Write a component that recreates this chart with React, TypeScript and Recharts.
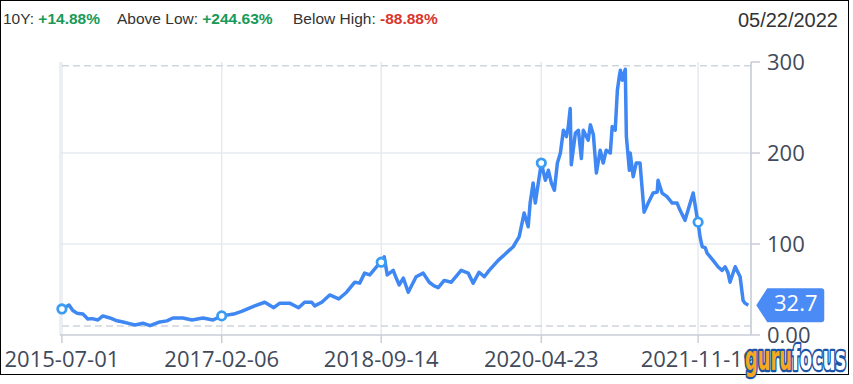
import React from "react";
import { LineChart, Line, XAxis, YAxis, CartesianGrid, ReferenceLine, ReferenceDot } from "recharts";

const dates = [
  "2015-07-01","2015-07-27","2015-08-10","2015-08-25","2015-09-16","2015-10-04","2015-10-20","2015-11-10","2015-11-28","2015-12-24",
  "2016-01-15","2016-02-10","2016-03-05","2016-03-25","2016-04-23","2016-05-19","2016-06-24","2016-07-20","2016-08-11","2016-09-17",
  "2016-10-20","2016-11-29","2017-01-05","2017-02-06","2017-03-22","2017-04-20","2017-06-07","2017-07-14","2017-08-16","2017-09-07",
  "2017-10-13","2017-11-15","2017-12-07","2018-01-02","2018-01-13","2018-02-08","2018-03-09","2018-04-11","2018-05-10","2018-06-09",
  "2018-06-27","2018-07-15","2018-08-03","2018-09-08","2018-09-14","2018-09-25","2018-10-06","2018-10-28","2018-11-08","2018-11-19",
  "2018-12-04","2018-12-22","2019-01-20","2019-02-15","2019-03-09","2019-03-27","2019-04-11","2019-05-03","2019-05-29","2019-07-04",
  "2019-07-30","2019-08-17","2019-09-08","2019-09-27","2019-10-15","2019-11-17","2019-12-09","2019-12-27","2020-01-11","2020-02-02",
  "2020-02-20","2020-03-06","2020-03-13","2020-03-24","2020-04-01","2020-04-12","2020-04-23","2020-05-08","2020-05-19","2020-05-30",
  "2020-06-10","2020-06-21","2020-07-02","2020-07-13","2020-07-24","2020-07-31","2020-08-07","2020-08-11","2020-08-26","2020-09-06",
  "2020-09-17","2020-09-24","2020-10-12","2020-10-20","2020-10-31","2020-11-11","2020-11-25","2020-12-06","2020-12-17","2021-01-01",
  "2021-01-08","2021-01-19","2021-01-27","2021-02-03","2021-02-07","2021-02-14","2021-02-25","2021-03-01","2021-03-12","2021-03-15",
  "2021-03-26","2021-04-06","2021-04-20","2021-05-05","2021-05-20","2021-06-07","2021-06-22","2021-06-25","2021-07-10","2021-07-28",
  "2021-08-16","2021-09-03","2021-09-14","2021-10-02","2021-10-13","2021-11-01","2021-11-15","2021-11-19","2021-11-26","2021-12-04",
  "2021-12-15","2021-12-22","2022-01-13","2022-01-31","2022-02-15","2022-02-26","2022-03-09","2022-03-16","2022-04-04","2022-04-22",
  "2022-05-03","2022-05-10","2022-05-22"
];

const prices = [
  28.6, 33, 27, 24, 23, 17.6, 18, 16.5, 21, 18.7,
  16, 14.3, 12.5, 11, 13, 10.2, 14.3, 15.5, 18.7, 18.7,
  16.5, 18.7, 16.5, 21, 23, 26, 32, 36, 30, 35,
  35, 30, 36, 36, 32, 36, 44, 39.6, 47, 58,
  57, 68, 66, 79, 80, 86, 66, 71, 62.6, 55,
  62.6, 47, 64, 68, 58, 54, 52, 60, 58, 71,
  68, 57, 69, 64, 71, 82, 88, 93, 97, 108,
  134, 119, 145, 167, 145, 167, 189, 170, 181, 167,
  159, 189, 200, 225, 218, 229, 249, 187, 222, 225,
  194, 225, 214, 231, 220, 178, 203, 189, 203, 200,
  229, 225, 269, 284, 291, 280, 292, 218, 181, 200,
  174, 189, 189, 135, 145, 156, 157, 170, 156, 152,
  145, 145, 137, 126, 137, 156, 130, 124, 108, 97,
  96, 90, 82, 75, 71, 75, 68, 58, 75, 64,
  38, 35, 32.7
];

const tickDates = ["2015-07-01", "2017-02-06", "2018-09-14", "2020-04-23", "2021-11-19"];
const yTicks = [0, 100, 200, 300];
const headerLabels = ["10Y:", "Above Low:", "Below High:"];
const headerValues = ["+14.88%", "+244.63%", "-88.88%"];
const headerColors = ["#189a58", "#189a58", "#d9362d"];
const headerLefts = [3, 117, 293];
const lastDate = "05/22/2022";
const lastPrice = 32.7;
const lowRef = 9.9;
const highRef = 296;
const domainStart = "2015-06-24";
const domainEnd = "2022-06-01";

const toT = (s: string) => new Date(s + "T00:00:00Z").getTime();
const data = dates.map((d, i) => ({ t: toT(d), d, price: prices[i] }));
const tickTs = tickDates.map(toT);
const markerSet = new Set(tickDates);

const fmtDate = (t: number) => new Date(t).toISOString().slice(0, 10);

const axisColor = "#c9ced6";
const tickColor = "#414a5b";
const lineColor = "#3f87f3";
const tickFont = "'Open Sans', 'Noto Sans', sans-serif";

const renderDot = (p: any) => {
  if (p.payload && markerSet.has(p.payload.d)) {
    return <circle key={p.key} cx={p.cx} cy={p.cy} r={4.2} fill="#fff" stroke="#3a9cf2" strokeWidth={2.8} />;
  }
  return <g key={p.key} />;
};

const PriceTag = (p: any) => {
  const cx = p.cx, cy = p.cy;
  const x0 = cx + 8;
  const bx = cx + 19;
  const br = cx + 76;
  const h = 17;
  const d = `M${x0},${cy} L${bx},${cy - h} L${br - 3},${cy - h} Q${br},${cy - h} ${br},${cy - h + 3} L${br},${cy + h - 3} Q${br},${cy + h} ${br - 3},${cy + h} L${bx},${cy + h} Z`;
  return (
    <g>
      <path d={d} fill="#4b8bf5" />
      <text x={(bx + br) / 2} y={cy + 6} textAnchor="middle" fill="#fff" fontSize={22} fontFamily={tickFont}>
        {lastPrice}
      </text>
    </g>
  );
};

export default function App() {
  return (
    <div style={{ position: "absolute", left: 0, top: 0, width: 853, height: 384, background: "#fff", overflow: "hidden" }}>
      <div style={{ position: "absolute", left: 0, top: 0, width: 849, height: 375, border: "1px solid #000", boxSizing: "border-box" }} />
      {headerLabels.map((l, i) => (
        <div key={l} style={{ position: "absolute", left: headerLefts[i], top: 10, fontFamily: "'Liberation Sans', Arial, sans-serif", fontSize: 15.5, lineHeight: "18px", color: "#333", whiteSpace: "nowrap" }}>
          {l} <b style={{ color: headerColors[i] }}>{headerValues[i]}</b>
        </div>
      ))}
      <div style={{ position: "absolute", right: 15, top: 9, fontFamily: "'Liberation Sans', Arial, sans-serif", fontSize: 20, lineHeight: "23px", color: "#333" }}>
        {lastDate}
      </div>
      <div style={{ position: "absolute", left: 0, top: 0 }}>
        <LineChart width={853} height={384} data={data} margin={{ top: 62, right: 22, bottom: 19, left: 60 }}>
          <CartesianGrid horizontal={false} vertical={true} stroke="#e6eaf0" strokeWidth={1.5} />
          <ReferenceLine y={100} stroke="#e6eaf0" strokeWidth={1.5} />
          <ReferenceLine y={200} stroke="#e6eaf0" strokeWidth={1.5} />
          <ReferenceLine y={highRef} stroke="#cfd5dd" strokeWidth={1.5} strokeDasharray="7 4" />
          <ReferenceLine y={lowRef} stroke="#cfd5dd" strokeWidth={1.5} strokeDasharray="7 4" />
          <XAxis
            dataKey="t"
            type="number"
            scale="time"
            domain={[toT(domainStart), toT(domainEnd)]}
            ticks={tickTs}
            tickFormatter={fmtDate}
            height={30}
            tickSize={8}
            tickMargin={8}
            axisLine={{ stroke: axisColor, strokeWidth: 1.5 }}
            tickLine={{ stroke: axisColor, strokeWidth: 1.5 }}
            tick={{ fill: tickColor, fontSize: 22, fontFamily: tickFont }}
            interval={0}
          />
          <YAxis
            orientation="right"
            domain={[0, 300]}
            ticks={yTicks}
            width={80}
            tickSize={9}
            tickMargin={7}
            tickFormatter={(v: number) => (v === 0 ? "0.00" : String(v))}
            axisLine={{ stroke: axisColor, strokeWidth: 1.5 }}
            tickLine={{ stroke: axisColor, strokeWidth: 1.5 }}
            tick={{ fill: tickColor, fontSize: 22, fontFamily: tickFont, textAnchor: "start" }}
            interval={0}
          />
          <Line
            type="linear"
            dataKey="price"
            stroke={lineColor}
            strokeWidth={3.5}
            strokeLinejoin="round"
            dot={renderDot}
            activeDot={false}
            isAnimationActive={false}
          />
          <ReferenceDot x={data[data.length - 1].t} y={lastPrice} r={0} shape={PriceTag} ifOverflow="visible" />
        </LineChart>
      </div>
      <svg style={{ position: "absolute", left: 740, top: 336 }} width={113} height={46}>
        <text x={5} y={34} fontFamily="'DejaVu Sans Condensed', 'DejaVu Sans', sans-serif" fontWeight="bold" fontSize={34}
          textLength={101} lengthAdjust="spacingAndGlyphs" stroke="#1d55a8" strokeWidth={4.5} strokeLinejoin="round" paintOrder="stroke">
          <tspan fill="#f6a91c">guru</tspan>
          <tspan fill="#ffffff">focus</tspan>
        </text>
      </svg>
    </div>
  );
}
